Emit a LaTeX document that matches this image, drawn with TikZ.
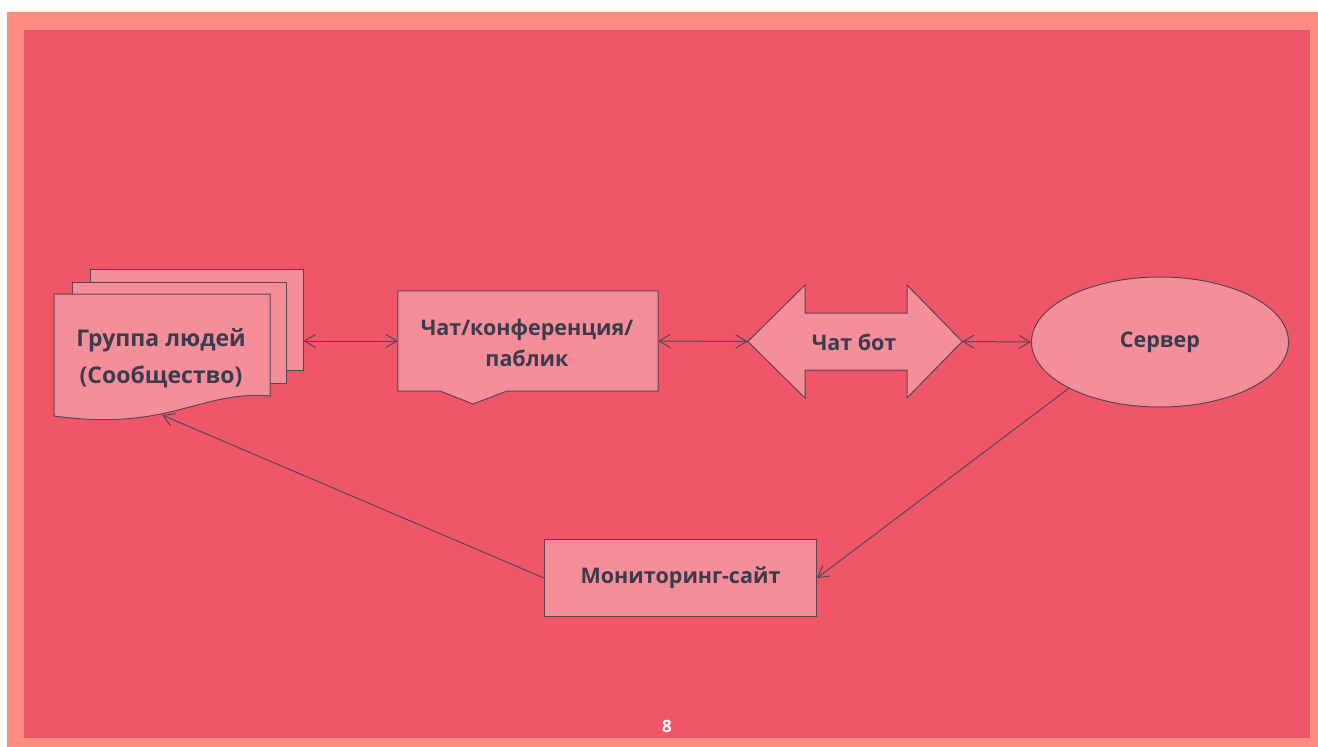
\documentclass[tikz,border=0pt]{standalone}
\usepackage{fontspec}
\setmainfont{Open Sans}
\usetikzlibrary{arrows.meta,shapes.geometric}
\definecolor{frame}{HTML}{FF8C80}
\definecolor{bg}{HTML}{EF5769}
\definecolor{nodefill}{HTML}{F48F9A}
\definecolor{ink}{HTML}{3C3A4C}
\definecolor{edge}{HTML}{5B4454}
\tikzset{
  lbl/.style={font=\bfseries\fontsize{21.5}{31}\selectfont, text=ink, align=center},
  shp/.style={fill=nodefill, draw=edge, line width=1pt},
  conn/.style={draw=edge, line width=1pt},
  >={Straight Barb[length=11pt,width=13pt]}
}
\begin{document}
\begin{tikzpicture}[x=1pt,y=-1pt]
\useasboundingbox (0,0) rectangle (1318,747);
\fill[white] (0,0) rectangle (1318,747);
\fill[frame] (7,12) rectangle (1318,747);
\fill[bg] (24,30) rectangle (1310,738);

% group of people (multi-document)
\node[shp, minimum width=213pt, minimum height=101pt, inner sep=0pt] (grpback) at (196.5,319.5) {};
\node[shp, minimum width=214pt, minimum height=101pt, inner sep=0pt] (grpmid) at (179,332.5) {};
\path[shp] (54,294) -- (270,294) -- (270,396) .. controls (200,390) and (170,432) .. (54,416) -- cycle;
\node[lbl, font=\bfseries\fontsize{23}{37}\selectfont] (grp) at (161,358) {Группа людей\\(Сообщество)};
\coordinate (grpbot) at (162,415);

% chat / conference / public
\node[minimum width=260pt, minimum height=100pt, inner sep=0pt] (chat) at (528,341) {};
\path[shp] (chat.north west) -- (chat.north east) -- (chat.south east) -- (507,391) -- (473,404) -- (440,391) -- (chat.south west) -- cycle;
\node[lbl] at (527,343) {Чат/конференция/\\паблик};

% chat bot (double arrow)
\node[minimum width=214pt, minimum height=113pt, inner sep=0pt] (bot) at (855,341.5) {};
\path[shp] (bot.west) -- (805,285) -- (805,313) -- (907,313) -- (907,285) -- (bot.east) -- (907,398) -- (907,370) -- (805,370) -- (805,398) -- cycle;
\node[lbl] at (854,342) {Чат бот};

% server
\node[shp, ellipse, minimum width=257pt, minimum height=130pt, inner sep=0pt] (srv) at (1160,342) {};
\node[lbl] at (srv) {Сервер};

% monitoring site
\node[shp, minimum width=272pt, minimum height=77pt, inner sep=0pt] (mon) at (680.5,578) {};
\node[lbl] at (mon) {Мониторинг-сайт};

% connectors
\draw[conn, <->] (grpback.east |- chat.west) -- (chat.west);
\draw[conn, <->] (chat.east) -- (bot.west);
\draw[conn, <->] (bot.east) -- (srv.west);
\draw[conn, ->] (srv.south west) -- (mon.east);
\draw[conn, ->] (mon.west) -- (grpbot);

% page number
\node[font=\bfseries\fontsize{17}{19}\selectfont, text=white] (pg) at (667,726) {8};
\end{tikzpicture}
\end{document}
